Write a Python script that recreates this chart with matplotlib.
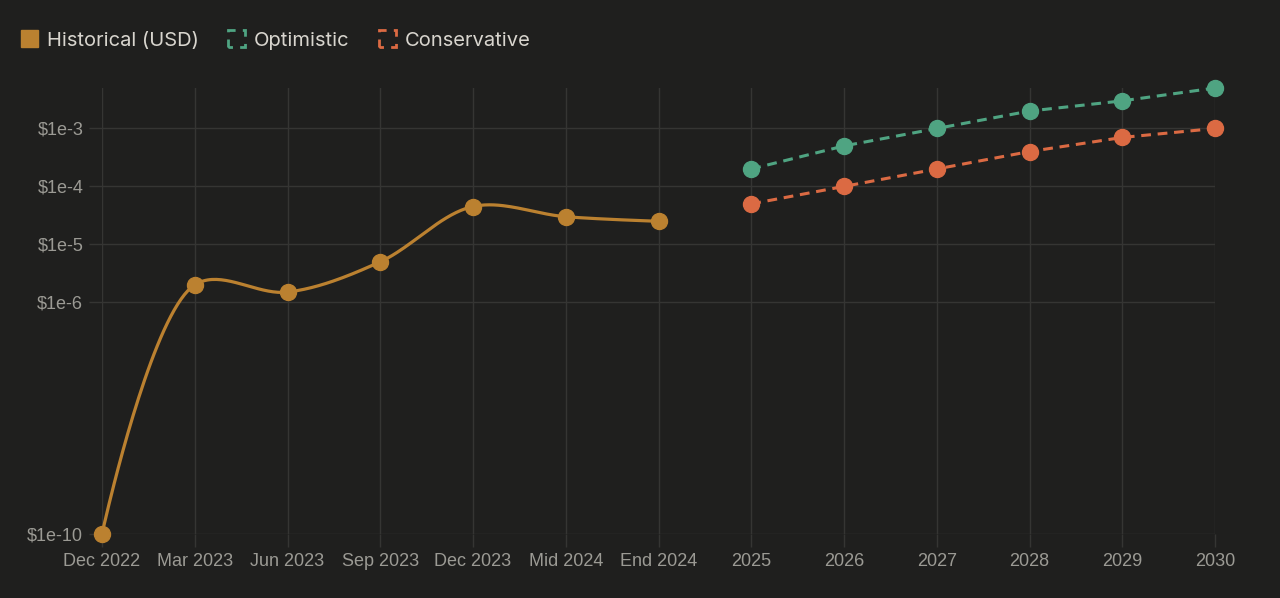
import numpy as np
import matplotlib
matplotlib.use("Agg")
import matplotlib.pyplot as plt
from matplotlib.patches import Patch

# Data
categories = ["Dec 2022", "Mar 2023", "Jun 2023", "Sep 2023", "Dec 2023", "Mid 2024", "End 2024",
              "2025", "2026", "2027", "2028", "2029", "2030"]
historical = [1e-10, 2e-6, 1.5e-6, 5e-6, 4.5e-5, 3e-5, 2.5e-5]
optimistic = [2e-4, 5e-4, 1e-3, 2e-3, 3e-3, 5e-3]
conservative = [5e-5, 1e-4, 2e-4, 4e-4, 7e-4, 1e-3]
ytick_vals = [1e-10, 1e-6, 1e-5, 1e-4, 1e-3]
ytick_labels = ["$1e-10", "$1e-6", "$1e-5", "$1e-4", "$1e-3"]

BG = "#1f1f1e"
GRID = "#353533"
TICK_TXT = "#9b9a94"
LEGEND_TXT = "#d8d5ce"
C_HIST = "#bb8130"
C_OPT = "#4fa482"
C_CON = "#db6a43"

plt.rcParams['font.family'] = ['Liberation Sans', 'DejaVu Sans']


def catmull_rom(pts, alpha=0.5, n=40):
    """centripetal catmull-rom through pts (display coords), like d3.curveCatmullRom"""
    pts = np.asarray(pts, float)
    out = [pts[0]]
    ext = np.vstack([pts[0], pts, pts[-1]])
    for i in range(1, len(ext) - 2):
        p0, p1, p2, p3 = ext[i - 1], ext[i], ext[i + 1], ext[i + 2]
        d01 = np.linalg.norm(p1 - p0)
        d12 = np.linalg.norm(p2 - p1)
        d23 = np.linalg.norm(p3 - p2)
        l01a, l12a, l23a = d01 ** alpha, d12 ** alpha, d23 ** alpha
        l01_2a, l12_2a, l23_2a = d01 ** (2 * alpha), d12 ** (2 * alpha), d23 ** (2 * alpha)
        c1, c2 = p1, p2
        if d01 > 1e-9:
            a = 2 * l01_2a + 3 * l01a * l12a + l12_2a
            c1 = (p1 * a - p0 * l12_2a + p2 * l01_2a) / (3 * l01a * (l01a + l12a))
        if d23 > 1e-9:
            b = 2 * l23_2a + 3 * l23a * l12a + l12_2a
            c2 = (p2 * b + p1 * l23_2a - p3 * l12_2a) / (3 * l23a * (l23a + l12a))
        t = np.linspace(0, 1, n)[1:, None]
        seg = (1 - t) ** 3 * p1 + 3 * (1 - t) ** 2 * t * c1 + 3 * (1 - t) * t ** 2 * c2 + t ** 3 * p2
        out.extend(seg)
    return np.array(out)


fig = plt.figure(figsize=(12.8, 5.98), dpi=100, facecolor=BG)
ax = fig.add_axes([102 / 1280, 64 / 598, 1113 / 1280, 446 / 598])
ax.set_facecolor(BG)
ax.set_yscale('log')
ax.set_xlim(0, len(categories) - 1)
ax.set_ylim(min(historical), max(optimistic))

x_hist = np.arange(len(historical))
x_proj = np.arange(len(historical), len(categories))

# smooth historical line, computed in display space
disp = ax.transData.transform(np.column_stack([x_hist, historical]))
curve = ax.transData.inverted().transform(catmull_rom(disp))
ax.plot(curve[:, 0], curve[:, 1], color=C_HIST, lw=2.3, clip_on=False, zorder=3)
ax.plot(x_hist, historical, 'o', color=C_HIST, ms=11.5, clip_on=False, zorder=4)

ax.plot(x_proj, optimistic, color=C_OPT, lw=2.2, ls=(0, (3.2, 2.2)), clip_on=False, zorder=3)
ax.plot(x_proj, optimistic, 'o', color=C_OPT, ms=11.5, clip_on=False, zorder=4)
ax.plot(x_proj, conservative, color=C_CON, lw=2.2, ls=(0, (3.2, 2.2)), clip_on=False, zorder=3)
ax.plot(x_proj, conservative, 'o', color=C_CON, ms=11.5, clip_on=False, zorder=4)

ax.set_xticks(range(len(categories)))
ax.set_xticklabels(categories)
ax.set_yticks(ytick_vals)
ax.set_yticklabels(ytick_labels)
ax.yaxis.set_minor_locator(matplotlib.ticker.NullLocator())
ax.tick_params(axis='both', colors=GRID, labelcolor=TICK_TXT, labelsize=13, length=9.5, width=1, pad=4)
ax.grid(True, color=GRID, lw=1)
ax.set_axisbelow(True)
for s in ax.spines.values():
    s.set_visible(False)

bracket = (1.6, (3.2, 2.6))
handles = [
    Patch(facecolor=C_HIST, edgecolor=C_HIST, lw=1),
    Patch(facecolor='none', edgecolor=C_OPT, lw=2, ls=bracket),
    Patch(facecolor='none', edgecolor=C_CON, lw=2, ls=bracket),
]
leg = fig.legend(handles, ["Historical (USD)", "Optimistic", "Conservative"],
                 loc='center left', bbox_to_anchor=(0.002, 1 - 40 / 598), ncol=3, frameon=False,
                 prop={'family': ['Inter', 'DejaVu Sans'], 'size': 14.5},
                 handlelength=0.85, handleheight=0.85, handletextpad=0.45,
                 columnspacing=1.45, labelcolor=LEGEND_TXT)

fig.savefig('out.png', dpi=100, facecolor=BG)
